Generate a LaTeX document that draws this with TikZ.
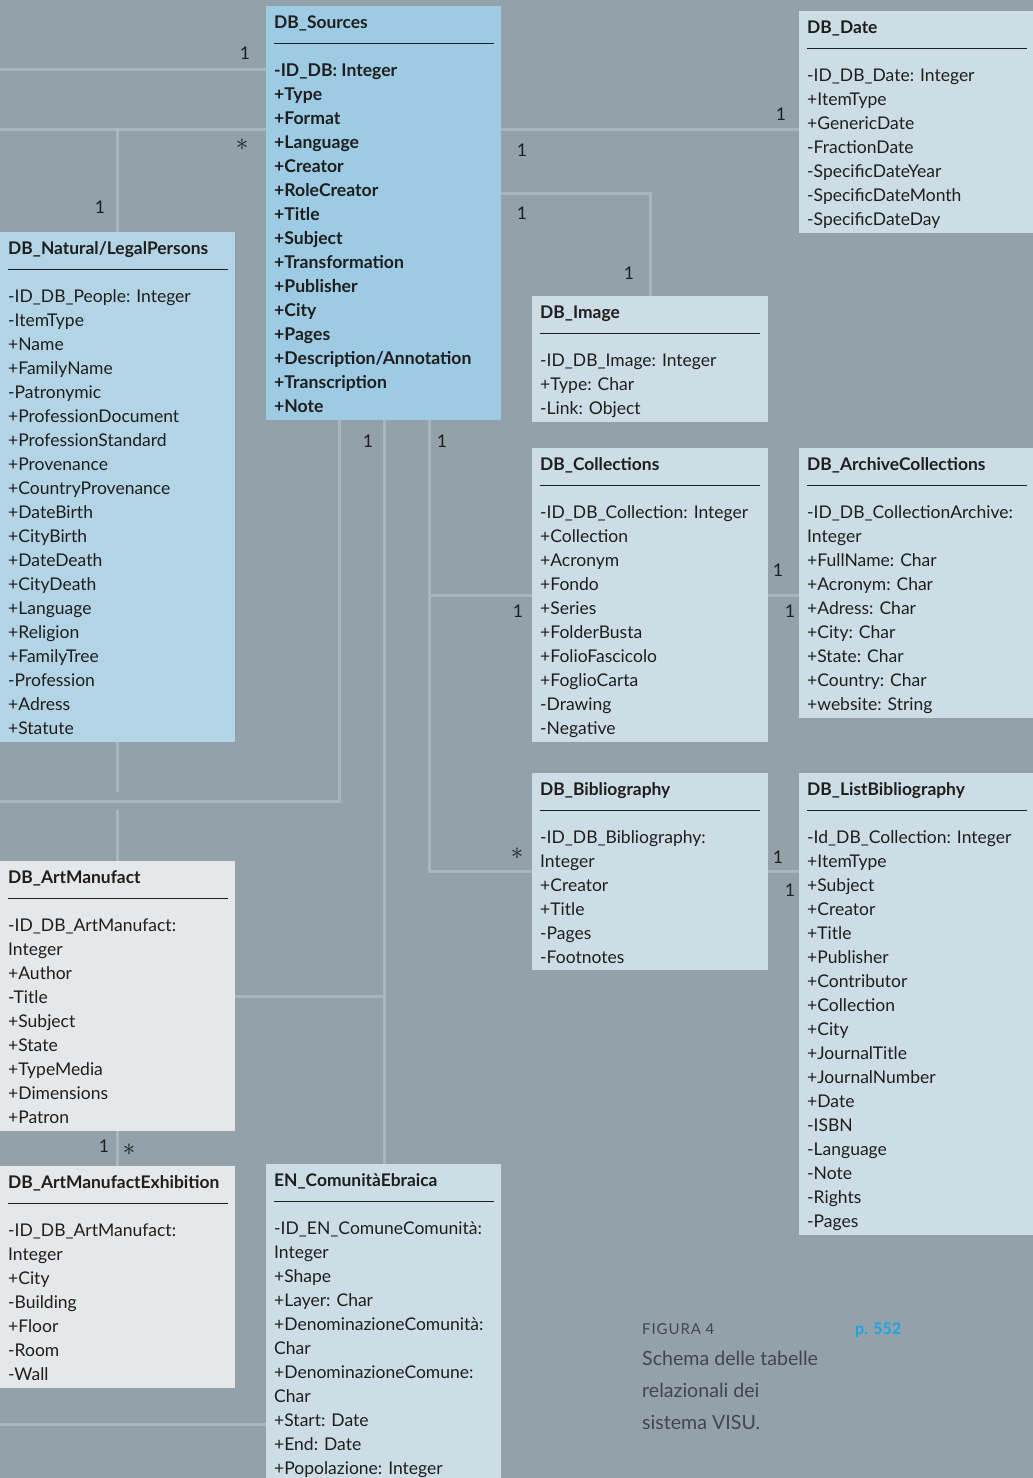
\documentclass[tikz,border=0pt]{standalone}
\usepackage{fontspec}
\setmainfont{Lato}
\newfontfamily\spacedfont[LetterSpace=6]{Lato}
\usetikzlibrary{calc}
\definecolor{bg}{HTML}{93A2AA}
\definecolor{linecol}{HTML}{A9B6BD}
\definecolor{srcfill}{HTML}{9DCBE3}
\definecolor{natfill}{HTML}{B3D4E5}
\definecolor{palefill}{HTML}{CDDDE5}
\definecolor{grayfill}{HTML}{E6E7E9}
\definecolor{ink}{HTML}{1E1E1E}
\definecolor{capink}{HTML}{40474C}
\definecolor{pblue}{HTML}{1BA4E1}
\newcommand\umlbox[7]{%
  \node[tbox, fill=#6, minimum width=#4 pt, minimum height=#5 pt] (#1) at (#2,#3) {};
  \node[ttl] (#1-title) at ($(#1.north west)+(8,22.5)$) {#7};
  \draw[uline] ($(#1.north west)+(8,37.5)$) -- ++(220,0);
}
\newcommand\umlitems[3]{%
  \foreach \lbl [count=\i] in {#3} {
    \node[#2] (#1-\i) at ($(#1.north west)+(8,{70.5+24*(\i-1)})$) {\lbl};
  }
}
\begin{document}
\begin{tikzpicture}[x=1pt,y=-1pt,
  tbox/.style={draw=none, inner sep=0pt, outer sep=0pt, anchor=north west},
  ttl/.style={anchor=base west, inner sep=0pt, font=\fontsize{17.4}{20}\selectfont\bfseries, text=ink},
  itm/.style={anchor=base west, inner sep=0pt, font=\fontsize{17.5}{20}\selectfont, text=ink},
  bitm/.style={itm, font=\fontsize{17.6}{20}\selectfont\bfseries},
  uline/.style={draw=ink, line width=1.6pt},
  cline/.style={draw=linecol, line width=3pt},
  mult/.style={anchor=base, inner sep=0pt, font=\fontsize{17.5}{20}\selectfont, text=ink},
  star/.style={anchor=base, inner sep=0pt, font=\fontsize{26}{28}\selectfont, text=ink},
]
\fill[bg] (0,0) rectangle (1033,1478);
\useasboundingbox (0,0) rectangle (1033,1478);

% boxes
\umlbox{src}{266}{6}{235}{414}{srcfill}{DB\_Sources}
\umlitems{src}{bitm}{-ID\_DB: Integer,+Type,+Format,+Language,+Creator,+RoleCreator,+Title,+Subject,+Transformation,+Publisher,+City,+Pages,+Description/Annotation,+Transcription,+Note}

\umlbox{date}{799}{11}{234}{222}{palefill}{DB\_Date}
\umlitems{date}{itm}{-ID\_DB\_Date: Integer,+ItemType,+GenericDate,-FractionDate,-SpecificDateYear,-SpecificDateMonth,-SpecificDateDay}

\umlbox{nat}{0}{232}{235}{510}{natfill}{DB\_Natural/LegalPersons}
\umlitems{nat}{itm}{-ID\_DB\_People: Integer,-ItemType,+Name,+FamilyName,-Patronymic,+ProfessionDocument,+ProfessionStandard,+Provenance,+CountryProvenance,+DateBirth,+CityBirth,+DateDeath,+CityDeath,+Language,+Religion,+FamilyTree,-Profession,+Adress,+Statute}

\umlbox{img}{532}{296}{236}{126}{palefill}{DB\_Image}
\umlitems{img}{itm}{-ID\_DB\_Image: Integer,+Type: Char,-Link: Object}

\umlbox{coll}{532}{448}{236}{294}{palefill}{DB\_Collections}
\umlitems{coll}{itm}{-ID\_DB\_Collection: Integer,+Collection,+Acronym,+Fondo,+Series,+FolderBusta,+FolioFascicolo,+FoglioCarta,-Drawing,-Negative}

\umlbox{arch}{799}{448}{234}{270}{palefill}{DB\_ArchiveCollections}
\umlitems{arch}{itm}{-ID\_DB\_CollectionArchive:,Integer,+FullName: Char,+Acronym: Char,+Adress: Char,+City: Char,+State: Char,+Country: Char,+website: String}

\umlbox{bib}{532}{773}{236}{197}{palefill}{DB\_Bibliography}
\umlitems{bib}{itm}{-ID\_DB\_Bibliography:,Integer,+Creator,+Title,-Pages,-Footnotes}

\umlbox{lbib}{799}{773}{234}{462}{palefill}{DB\_ListBibliography}
\umlitems{lbib}{itm}{-Id\_DB\_Collection: Integer,+ItemType,+Subject,+Creator,+Title,+Publisher,+Contributor,+Collection,+City,+JournalTitle,+JournalNumber,+Date,-ISBN,-Language,-Note,-Rights,-Pages}

\umlbox{art}{0}{861}{235}{270}{grayfill}{DB\_ArtManufact}
\umlitems{art}{itm}{-ID\_DB\_ArtManufact:,Integer,+Author,-Title,+Subject,+State,+TypeMedia,+Dimensions,+Patron}

\umlbox{exh}{0}{1166}{235}{222}{grayfill}{DB\_ArtManufactExhibition}
\umlitems{exh}{itm}{-ID\_DB\_ArtManufact:,Integer,+City,-Building,+Floor,-Room,-Wall}

\umlbox{com}{266}{1164}{235}{314}{palefill}{EN\_ComunitàEbraica}
\umlitems{com}{itm}{-ID\_EN\_ComuneComunità:,Integer,+Shape,+Layer: Char,+DenominazioneComunità:,Char,+DenominazioneComune:,Char,+Start: Date,+End: Date,+Popolazione: Integer}

% connectors
\coordinate (lA) at (0,69);
\draw[cline] (lA) -- (lA -| src.west);
\coordinate (lB) at (0,129);
\draw[cline] (lB) -- (lB -| src.west);
\draw[cline] (src.east |- lB) -- (date.west |- lB);
\coordinate (jNat) at (117.5,129);
\draw[cline] (jNat) -- (jNat |- nat.north);
\coordinate (kImg) at (650,193);
\draw[cline] (src.east |- kImg) -- (kImg) -- (kImg |- img.north);
\coordinate (kA) at (339,801);
\coordinate (kA0) at (0,801);
\draw[cline] (kA |- src.south) -- (kA) -- (kA0);
\coordinate (kB) at (384,996);
\draw[cline] (kB |- src.south) -- (kB |- com.north);
\draw[cline] (art.east |- kB) -- (kB);
\coordinate (kC) at (429,595);
\coordinate (kD) at (429,871);
\draw[cline] (kC |- src.south) -- (kD) -- (kD -| bib.west);
\draw[cline] (kC) -- (kC -| coll.west);
\draw[cline] (coll.east |- kC) -- (arch.west |- kC);
\draw[cline] (bib.east |- kD) -- (lbib.west |- kD);
\draw[cline] (nat.south) -- ($(nat.south)+(0,50)$);
\draw[cline] (art.north) -- ($(art.north)+(0,-51)$);
\draw[cline] (art.south) -- (exh.north);
\coordinate (kE) at (0,1424);
\draw[cline] (kE) -- (kE -| com.west);

% multiplicities
\node[mult] (m1) at (245,59) {1};
\node[star] (m2) at (242,150.5) {$\ast$};
\node[mult] (m3) at (522,156) {1};
\node[mult] (m4) at (781,120) {1};
\node[mult] (m5) at (100,213) {1};
\node[mult] (m6) at (522,219) {1};
\node[mult] (m7) at (629,279) {1};
\node[mult] (m8) at (368,447) {1};
\node[mult] (m9) at (442,447) {1};
\node[mult] (m10) at (518,617) {1};
\node[star] (m11) at (517,859.5) {$\ast$};
\node[mult] (m12) at (778,576) {1};
\node[mult] (m13) at (790,617) {1};
\node[mult] (m14) at (778,863) {1};
\node[mult] (m15) at (790,896) {1};
\node[mult] (m16) at (104,1152) {1};
\node[star] (m17) at (129,1155) {$\ast$};

% caption
\node[anchor=base west, inner sep=0pt, font=\fontsize{15}{18}\spacedfont, text=capink] (figlab) at (642,1334) {FIGURA 4};
\node[anchor=base west, inner sep=0pt, font=\fontsize{16}{18}\selectfont\bfseries, text=pblue] (pg) at (855,1334) {p. 552};
\node[anchor=base west, inner sep=0pt, font=\fontsize{19.6}{32}\selectfont, text=capink] (cap1) at (642,1365) {Schema delle tabelle};
\node[anchor=base west, inner sep=0pt, font=\fontsize{19.6}{32}\selectfont, text=capink] (cap2) at (642,1397) {relazionali dei};
\node[anchor=base west, inner sep=0pt, font=\fontsize{19.6}{32}\selectfont, text=capink] (cap3) at (642,1429) {sistema VISU.};
\end{tikzpicture}
\end{document}
